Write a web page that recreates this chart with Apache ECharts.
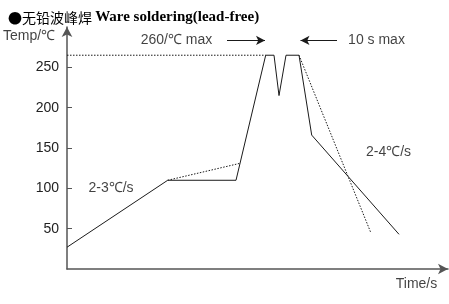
<!DOCTYPE html>
<html><head><meta charset="utf-8">
<script src="https://cdn.jsdelivr.net/npm/echarts@6/dist/echarts.min.js"></script>
<style>html,body{margin:0;padding:0;background:#fff}#c{width:449px;height:304px}</style>
</head><body><div id="c"></div>
<script>
// Time axis in arbitrary units (no tick labels in the original)
const profileTime = [0, 100.7, 169, 198.7, 207, 212, 219, 232, 244.7, 332];
const profileTemp = [27, 110, 110, 265, 265, 215, 265, 265, 166, 43];
const preheatGuideTime = [100.7, 173];
const preheatGuideTemp = [110, 131];
const coolGuideTime = [232, 304];
const coolGuideTemp = [265, 44.5];
const maxLineTime = [0, 198.7];
const maxLineTemp = [265, 265];
const yTicks = [50, 100, 150, 200, 250];
const annotations = [
  {text: '260/℃ max', t: 109.5, v: 283.4},
  {text: '10 s max', t: 309.5, v: 283.4},
  {text: '2-3℃/s', t: 44, v: 100},
  {text: '2-4℃/s', t: 321.5, v: 145},
  {text: 'Time/s', t: 349.5, v: -18.2},
  {text: 'Temp/℃', t: -38, v: 289}
];
const windowEdgesTime = [198.7, 232];
const windowTopTemp = 302;
const arrowLeft = [[160, 283.4], [198, 283.4]];
const arrowRight = [[270, 283.4], [233.5, 283.4]];

const zip = (a, b) => a.map((x, i) => [x, b[i]]);
const lineColor = '#1a1a1a';
const chart = echarts.init(document.getElementById('c'));
chart.setOption({
  animation: false,
  title: {
    text: '{a|●无铅波峰焊 }{b|Ware soldering(lead-free)}',
    left: 3, top: 5,
    textStyle: {
      rich: {
        a: {fontFamily: 'Noto Sans CJK SC', fontWeight: 'normal', fontSize: 14, color: '#000'},
        b: {fontFamily: 'Liberation Serif', fontWeight: 'bold', fontSize: 15, color: '#000'}
      }
    }
  },
  grid: {left: 67, right: 1, top: 27, bottom: 35},
  xAxis: {
    type: 'value', min: 0, max: 381,
    axisLine: {show: true, lineStyle: {color: '#555', width: 1.5}, symbol: ['none', 'arrow'], symbolSize: [8, 10]},
    axisTick: {show: false}, axisLabel: {show: false}, splitLine: {show: false}
  },
  yAxis: {
    type: 'value', min: 0, max: 300, interval: 50,
    axisLine: {show: true, lineStyle: {color: '#555', width: 1.5}, symbol: ['none', 'arrow'], symbolSize: [8, 10]},
    axisTick: {show: true, inside: true, length: 5, customValues: yTicks, lineStyle: {color: '#555'}},
    axisLabel: {show: true, customValues: yTicks, margin: 8, fontFamily: 'Liberation Sans', fontSize: 14, color: '#222'},
    splitLine: {show: false}
  },
  series: [
    {type: 'line', data: zip(profileTime, profileTemp), symbol: 'none', clip: false,
     lineStyle: {color: lineColor, width: 1}},
    {type: 'line', data: zip(preheatGuideTime, preheatGuideTemp), symbol: 'none',
     lineStyle: {color: lineColor, width: 1, type: [1.5, 1.5]}},
    {type: 'line', data: zip(coolGuideTime, coolGuideTemp), symbol: 'none',
     lineStyle: {color: lineColor, width: 1, type: [1.5, 1.5]}},
    {type: 'line', data: zip(maxLineTime, maxLineTemp), symbol: 'none',
     lineStyle: {color: lineColor, width: 1, type: [1.5, 1.5]}},
    {type: 'line', symbol: 'none', clip: false, data: [],
     markLine: {
       silent: true, symbol: ['none', 'none'], label: {show: false},
       lineStyle: {color: lineColor, width: 1, type: 'solid'},
       data: windowEdgesTime.map(t => [{coord: [t, 265]}, {coord: [t, windowTopTemp]}])
     }},
    {type: 'line', symbol: 'none', clip: false, data: [],
     markLine: {
       silent: true, symbol: ['none', 'arrow'], symbolSize: [7, 9], label: {show: false},
       lineStyle: {color: lineColor, width: 1.2, type: 'solid'},
       data: [arrowLeft, arrowRight].map(p => [{coord: p[0]}, {coord: p[1]}])
     }},
    {type: 'scatter', clip: false, symbolSize: 0,
     data: annotations.map(a => ({value: [a.t, a.v], label: {formatter: a.text}})),
     label: {show: true, position: 'inside', fontFamily: 'Liberation Sans', fontSize: 14, color: '#111'}}
  ]
});
</script></body></html>
